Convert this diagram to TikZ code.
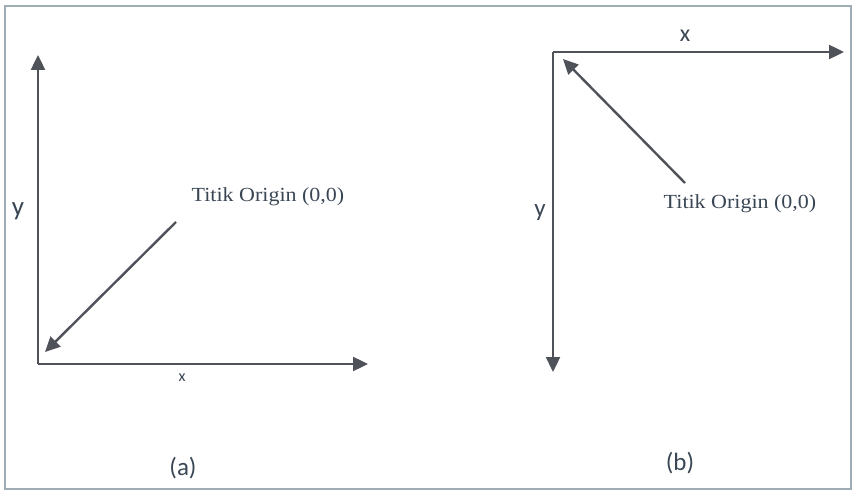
\documentclass[tikz,border=0pt]{standalone}
\usepackage{fontspec}
\setmainfont{Liberation Serif}
\newfontfamily\lblfont[FakeStretch=1.1]{Liberation Serif}
\newfontfamily\axfont{Carlito}
\usetikzlibrary{arrows.meta}
\definecolor{axcol}{RGB}{80,82,90}
\definecolor{txtcol}{RGB}{58,70,84}
\definecolor{framecol}{RGB}{160,172,180}
\tikzset{
  axis/.style={draw=axcol, line width=2.4pt, -{Triangle[length=15pt,width=14pt]}},
  origlbl/.style={text=txtcol, font=\lblfont\fontsize{20}{23}\selectfont, inner sep=0pt},
  axlbl/.style={text=txtcol, font=\axfont, inner sep=0pt},
}
\begin{document}
\begin{tikzpicture}[x=1pt,y=-1pt]
\useasboundingbox (0,0) rectangle (854,494);
\draw[framecol, line width=2pt] (5,6) rectangle (851,489);
% panel (a)
\coordinate (a0) at (38,364);
\coordinate (ayt) at (38,55);
\coordinate (axt) at (368,364);
\coordinate (ast) at (176,222);
\coordinate (atip) at (45,352);
\draw[axis] (a0) -- (ayt);
\draw[axis] (a0) -- (axt);
\draw[axis] (ast) -- (atip);
\node[origlbl] (alab) at (268,197) {Titik Origin (0,0)};
\node[axlbl, font=\axfont\fontsize{27}{30}\selectfont] (ay) at (18,211) {y};
\node[axlbl, font=\axfont\fontsize{16}{18}\selectfont] (ax) at (182,378) {x};
\node[axlbl, font=\axfont\fontsize{25}{28}\selectfont] (acap) at (183,468) {(a)};
% panel (b)
\coordinate (b0) at (553,52);
\coordinate (bxt) at (844,52);
\coordinate (byt) at (553,372);
\coordinate (bst) at (685,183);
\coordinate (btip) at (563,59);
\draw[axis] (b0) -- (bxt);
\draw[axis] (b0) -- (byt);
\draw[axis] (bst) -- (btip);
\node[origlbl] (blab) at (740,204) {Titik Origin (0,0)};
\node[axlbl, font=\axfont\fontsize{25}{28}\selectfont] (by) at (540,213) {y};
\node[axlbl, font=\axfont\fontsize{24}{27}\selectfont] (bx) at (685,36) {x};
\node[axlbl, font=\axfont\fontsize{25}{28}\selectfont] (bcap) at (680,463) {(b)};
\end{tikzpicture}
\end{document}
